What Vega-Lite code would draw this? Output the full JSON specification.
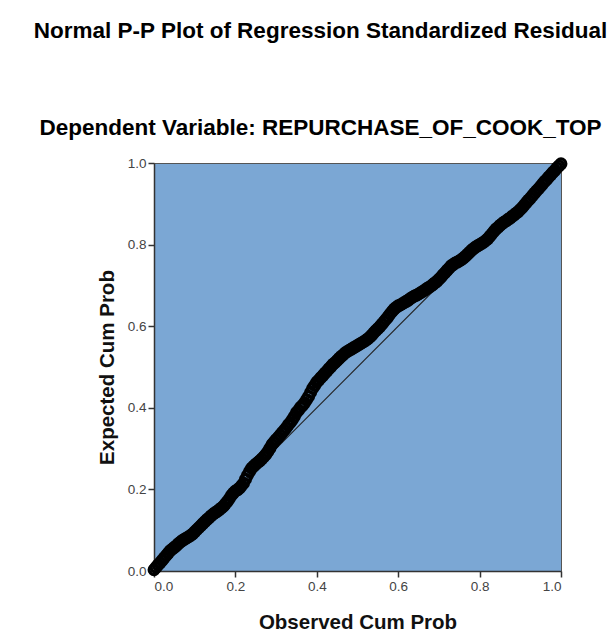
{
  "$schema": "https://vega.github.io/schema/vega-lite/v6.json",
  "width": 407,
  "height": 408,
  "autosize": {"type": "none"},
  "padding": {"left": 154, "top": 163, "right": 52, "bottom": 71},
  "background": "white",
  "title": {
    "text": "Normal P-P Plot of Regression Standardized Residual",
    "subtitle": "Dependent Variable: REPURCHASE_OF_COOK_TOP",
    "anchor": "middle",
    "dx": -37,
    "offset": 13,
    "font": "Liberation Sans",
    "fontSize": 22.5,
    "fontWeight": "bold",
    "color": "black",
    "subtitleFont": "Liberation Sans",
    "subtitleFontSize": 22.5,
    "subtitleFontWeight": "bold",
    "subtitleColor": "black",
    "subtitlePadding": 75
  },
  "config": {
    "view": {"fill": "#7BA7D4", "stroke": "#555", "strokeWidth": 1},
    "axis": {
      "grid": false,
      "domainColor": "#333",
      "domainWidth": 1.5,
      "tickColor": "#333",
      "tickSize": 6,
      "tickWidth": 1.5,
      "labelFont": "Liberation Sans",
      "labelFontSize": 13.5,
      "labelColor": "#444",
      "titleFont": "Liberation Sans",
      "titleFontSize": 20.5,
      "titleFontWeight": "bold",
      "titleColor": "#111",
      "format": ".1f",
      "tickCount": 5
    },
    "axisX": {"titlePadding": 20},
    "axisY": {"titlePadding": 10}
  },
  "layer": [
    {
      "data": {"values": [{"x": 0, "y": 0, "x2": 1, "y2": 1}]},
      "mark": {"type": "rule", "color": "#222", "strokeWidth": 1.2},
      "encoding": {
        "x": {"field": "x", "type": "quantitative", "scale": {"domain": [0, 1]}},
        "y": {"field": "y", "type": "quantitative", "scale": {"domain": [0, 1]}},
        "x2": {"field": "x2"},
        "y2": {"field": "y2"}
      }
    },
    {
      "data": {"values": [
        {"obs": 0.00, "exp": 0.003}, {"obs": 0.005, "exp": 0.009}, {"obs": 0.01, "exp": 0.015}, {"obs": 0.015, "exp": 0.020},
        {"obs": 0.02, "exp": 0.026}, {"obs": 0.025, "exp": 0.032}, {"obs": 0.03, "exp": 0.038}, {"obs": 0.035, "exp": 0.044},
        {"obs": 0.04, "exp": 0.050}, {"obs": 0.045, "exp": 0.054}, {"obs": 0.05, "exp": 0.058}, {"obs": 0.055, "exp": 0.062},
        {"obs": 0.06, "exp": 0.067}, {"obs": 0.065, "exp": 0.071}, {"obs": 0.07, "exp": 0.075}, {"obs": 0.075, "exp": 0.078},
        {"obs": 0.08, "exp": 0.081}, {"obs": 0.085, "exp": 0.084}, {"obs": 0.09, "exp": 0.087}, {"obs": 0.095, "exp": 0.091},
        {"obs": 0.10, "exp": 0.096}, {"obs": 0.105, "exp": 0.101}, {"obs": 0.11, "exp": 0.106}, {"obs": 0.115, "exp": 0.111},
        {"obs": 0.12, "exp": 0.116}, {"obs": 0.125, "exp": 0.121}, {"obs": 0.13, "exp": 0.126}, {"obs": 0.135, "exp": 0.130},
        {"obs": 0.14, "exp": 0.135}, {"obs": 0.145, "exp": 0.139}, {"obs": 0.15, "exp": 0.143}, {"obs": 0.155, "exp": 0.146},
        {"obs": 0.16, "exp": 0.150}, {"obs": 0.165, "exp": 0.154}, {"obs": 0.17, "exp": 0.158}, {"obs": 0.175, "exp": 0.164},
        {"obs": 0.18, "exp": 0.170}, {"obs": 0.185, "exp": 0.177}, {"obs": 0.19, "exp": 0.185}, {"obs": 0.195, "exp": 0.191},
        {"obs": 0.20, "exp": 0.196}, {"obs": 0.205, "exp": 0.199}, {"obs": 0.21, "exp": 0.203}, {"obs": 0.215, "exp": 0.209},
        {"obs": 0.22, "exp": 0.215}, {"obs": 0.225, "exp": 0.225}, {"obs": 0.23, "exp": 0.235}, {"obs": 0.235, "exp": 0.244},
        {"obs": 0.24, "exp": 0.252}, {"obs": 0.245, "exp": 0.257}, {"obs": 0.25, "exp": 0.262}, {"obs": 0.255, "exp": 0.266},
        {"obs": 0.26, "exp": 0.270}, {"obs": 0.265, "exp": 0.275}, {"obs": 0.27, "exp": 0.280}, {"obs": 0.275, "exp": 0.286},
        {"obs": 0.28, "exp": 0.293}, {"obs": 0.285, "exp": 0.301}, {"obs": 0.29, "exp": 0.310}, {"obs": 0.295, "exp": 0.316},
        {"obs": 0.30, "exp": 0.322}, {"obs": 0.305, "exp": 0.327}, {"obs": 0.31, "exp": 0.333}, {"obs": 0.315, "exp": 0.339},
        {"obs": 0.32, "exp": 0.345}, {"obs": 0.325, "exp": 0.351}, {"obs": 0.33, "exp": 0.358}, {"obs": 0.335, "exp": 0.364},
        {"obs": 0.34, "exp": 0.371}, {"obs": 0.345, "exp": 0.379}, {"obs": 0.35, "exp": 0.388}, {"obs": 0.355, "exp": 0.394},
        {"obs": 0.36, "exp": 0.401}, {"obs": 0.365, "exp": 0.406}, {"obs": 0.37, "exp": 0.412}, {"obs": 0.375, "exp": 0.420},
        {"obs": 0.38, "exp": 0.428}, {"obs": 0.385, "exp": 0.438}, {"obs": 0.39, "exp": 0.448}, {"obs": 0.395, "exp": 0.455},
        {"obs": 0.40, "exp": 0.463}, {"obs": 0.405, "exp": 0.468}, {"obs": 0.41, "exp": 0.474}, {"obs": 0.415, "exp": 0.479},
        {"obs": 0.42, "exp": 0.485}, {"obs": 0.425, "exp": 0.490}, {"obs": 0.43, "exp": 0.496}, {"obs": 0.435, "exp": 0.501},
        {"obs": 0.44, "exp": 0.507}, {"obs": 0.445, "exp": 0.511}, {"obs": 0.45, "exp": 0.516}, {"obs": 0.455, "exp": 0.521},
        {"obs": 0.46, "exp": 0.526}, {"obs": 0.465, "exp": 0.530}, {"obs": 0.47, "exp": 0.535}, {"obs": 0.475, "exp": 0.538},
        {"obs": 0.48, "exp": 0.541}, {"obs": 0.485, "exp": 0.544}, {"obs": 0.49, "exp": 0.547}, {"obs": 0.495, "exp": 0.550},
        {"obs": 0.50, "exp": 0.553}, {"obs": 0.505, "exp": 0.556}, {"obs": 0.51, "exp": 0.559}, {"obs": 0.515, "exp": 0.562},
        {"obs": 0.52, "exp": 0.565}, {"obs": 0.525, "exp": 0.569}, {"obs": 0.53, "exp": 0.573}, {"obs": 0.535, "exp": 0.578},
        {"obs": 0.54, "exp": 0.584}, {"obs": 0.545, "exp": 0.589}, {"obs": 0.55, "exp": 0.594}, {"obs": 0.555, "exp": 0.599},
        {"obs": 0.56, "exp": 0.605}, {"obs": 0.565, "exp": 0.611}, {"obs": 0.57, "exp": 0.617}, {"obs": 0.575, "exp": 0.623},
        {"obs": 0.58, "exp": 0.630}, {"obs": 0.585, "exp": 0.636}, {"obs": 0.59, "exp": 0.642}, {"obs": 0.595, "exp": 0.646},
        {"obs": 0.60, "exp": 0.650}, {"obs": 0.605, "exp": 0.652}, {"obs": 0.61, "exp": 0.655}, {"obs": 0.615, "exp": 0.658},
        {"obs": 0.62, "exp": 0.661}, {"obs": 0.625, "exp": 0.664}, {"obs": 0.63, "exp": 0.668}, {"obs": 0.635, "exp": 0.671},
        {"obs": 0.64, "exp": 0.674}, {"obs": 0.645, "exp": 0.676}, {"obs": 0.65, "exp": 0.679}, {"obs": 0.655, "exp": 0.682},
        {"obs": 0.66, "exp": 0.685}, {"obs": 0.665, "exp": 0.688}, {"obs": 0.67, "exp": 0.692}, {"obs": 0.675, "exp": 0.695},
        {"obs": 0.68, "exp": 0.698}, {"obs": 0.685, "exp": 0.702}, {"obs": 0.69, "exp": 0.706}, {"obs": 0.695, "exp": 0.710},
        {"obs": 0.70, "exp": 0.715}, {"obs": 0.705, "exp": 0.720}, {"obs": 0.71, "exp": 0.726}, {"obs": 0.715, "exp": 0.731},
        {"obs": 0.72, "exp": 0.737}, {"obs": 0.725, "exp": 0.742}, {"obs": 0.73, "exp": 0.748}, {"obs": 0.735, "exp": 0.751},
        {"obs": 0.74, "exp": 0.755}, {"obs": 0.745, "exp": 0.757}, {"obs": 0.75, "exp": 0.760}, {"obs": 0.755, "exp": 0.763},
        {"obs": 0.76, "exp": 0.767}, {"obs": 0.765, "exp": 0.771}, {"obs": 0.77, "exp": 0.776}, {"obs": 0.775, "exp": 0.781},
        {"obs": 0.78, "exp": 0.786}, {"obs": 0.785, "exp": 0.790}, {"obs": 0.79, "exp": 0.794}, {"obs": 0.795, "exp": 0.797},
        {"obs": 0.80, "exp": 0.800}, {"obs": 0.805, "exp": 0.803}, {"obs": 0.81, "exp": 0.806}, {"obs": 0.815, "exp": 0.810},
        {"obs": 0.82, "exp": 0.814}, {"obs": 0.825, "exp": 0.820}, {"obs": 0.83, "exp": 0.826}, {"obs": 0.835, "exp": 0.832},
        {"obs": 0.84, "exp": 0.838}, {"obs": 0.845, "exp": 0.842}, {"obs": 0.85, "exp": 0.847}, {"obs": 0.855, "exp": 0.851},
        {"obs": 0.86, "exp": 0.855}, {"obs": 0.865, "exp": 0.858}, {"obs": 0.87, "exp": 0.862}, {"obs": 0.875, "exp": 0.865},
        {"obs": 0.88, "exp": 0.869}, {"obs": 0.885, "exp": 0.873}, {"obs": 0.89, "exp": 0.877}, {"obs": 0.895, "exp": 0.881},
        {"obs": 0.90, "exp": 0.886}, {"obs": 0.905, "exp": 0.891}, {"obs": 0.91, "exp": 0.897}, {"obs": 0.915, "exp": 0.903},
        {"obs": 0.92, "exp": 0.909}, {"obs": 0.925, "exp": 0.914}, {"obs": 0.93, "exp": 0.920}, {"obs": 0.935, "exp": 0.926},
        {"obs": 0.94, "exp": 0.932}, {"obs": 0.945, "exp": 0.937}, {"obs": 0.95, "exp": 0.943}, {"obs": 0.955, "exp": 0.949},
        {"obs": 0.96, "exp": 0.955}, {"obs": 0.965, "exp": 0.960}, {"obs": 0.97, "exp": 0.966}, {"obs": 0.975, "exp": 0.971},
        {"obs": 0.98, "exp": 0.977}, {"obs": 0.985, "exp": 0.982}, {"obs": 0.99, "exp": 0.988}, {"obs": 0.995, "exp": 0.993},
        {"obs": 1.00, "exp": 0.998}
      ]},
      "mark": {"type": "point", "shape": "circle", "filled": false, "stroke": "black", "strokeWidth": 3.2, "size": 95, "opacity": 1},
      "encoding": {
        "x": {"field": "obs", "type": "quantitative", "title": "Observed Cum Prob", "scale": {"domain": [0, 1]}},
        "y": {"field": "exp", "type": "quantitative", "title": "Expected Cum Prob", "scale": {"domain": [0, 1]}}
      }
    }
  ]
}
